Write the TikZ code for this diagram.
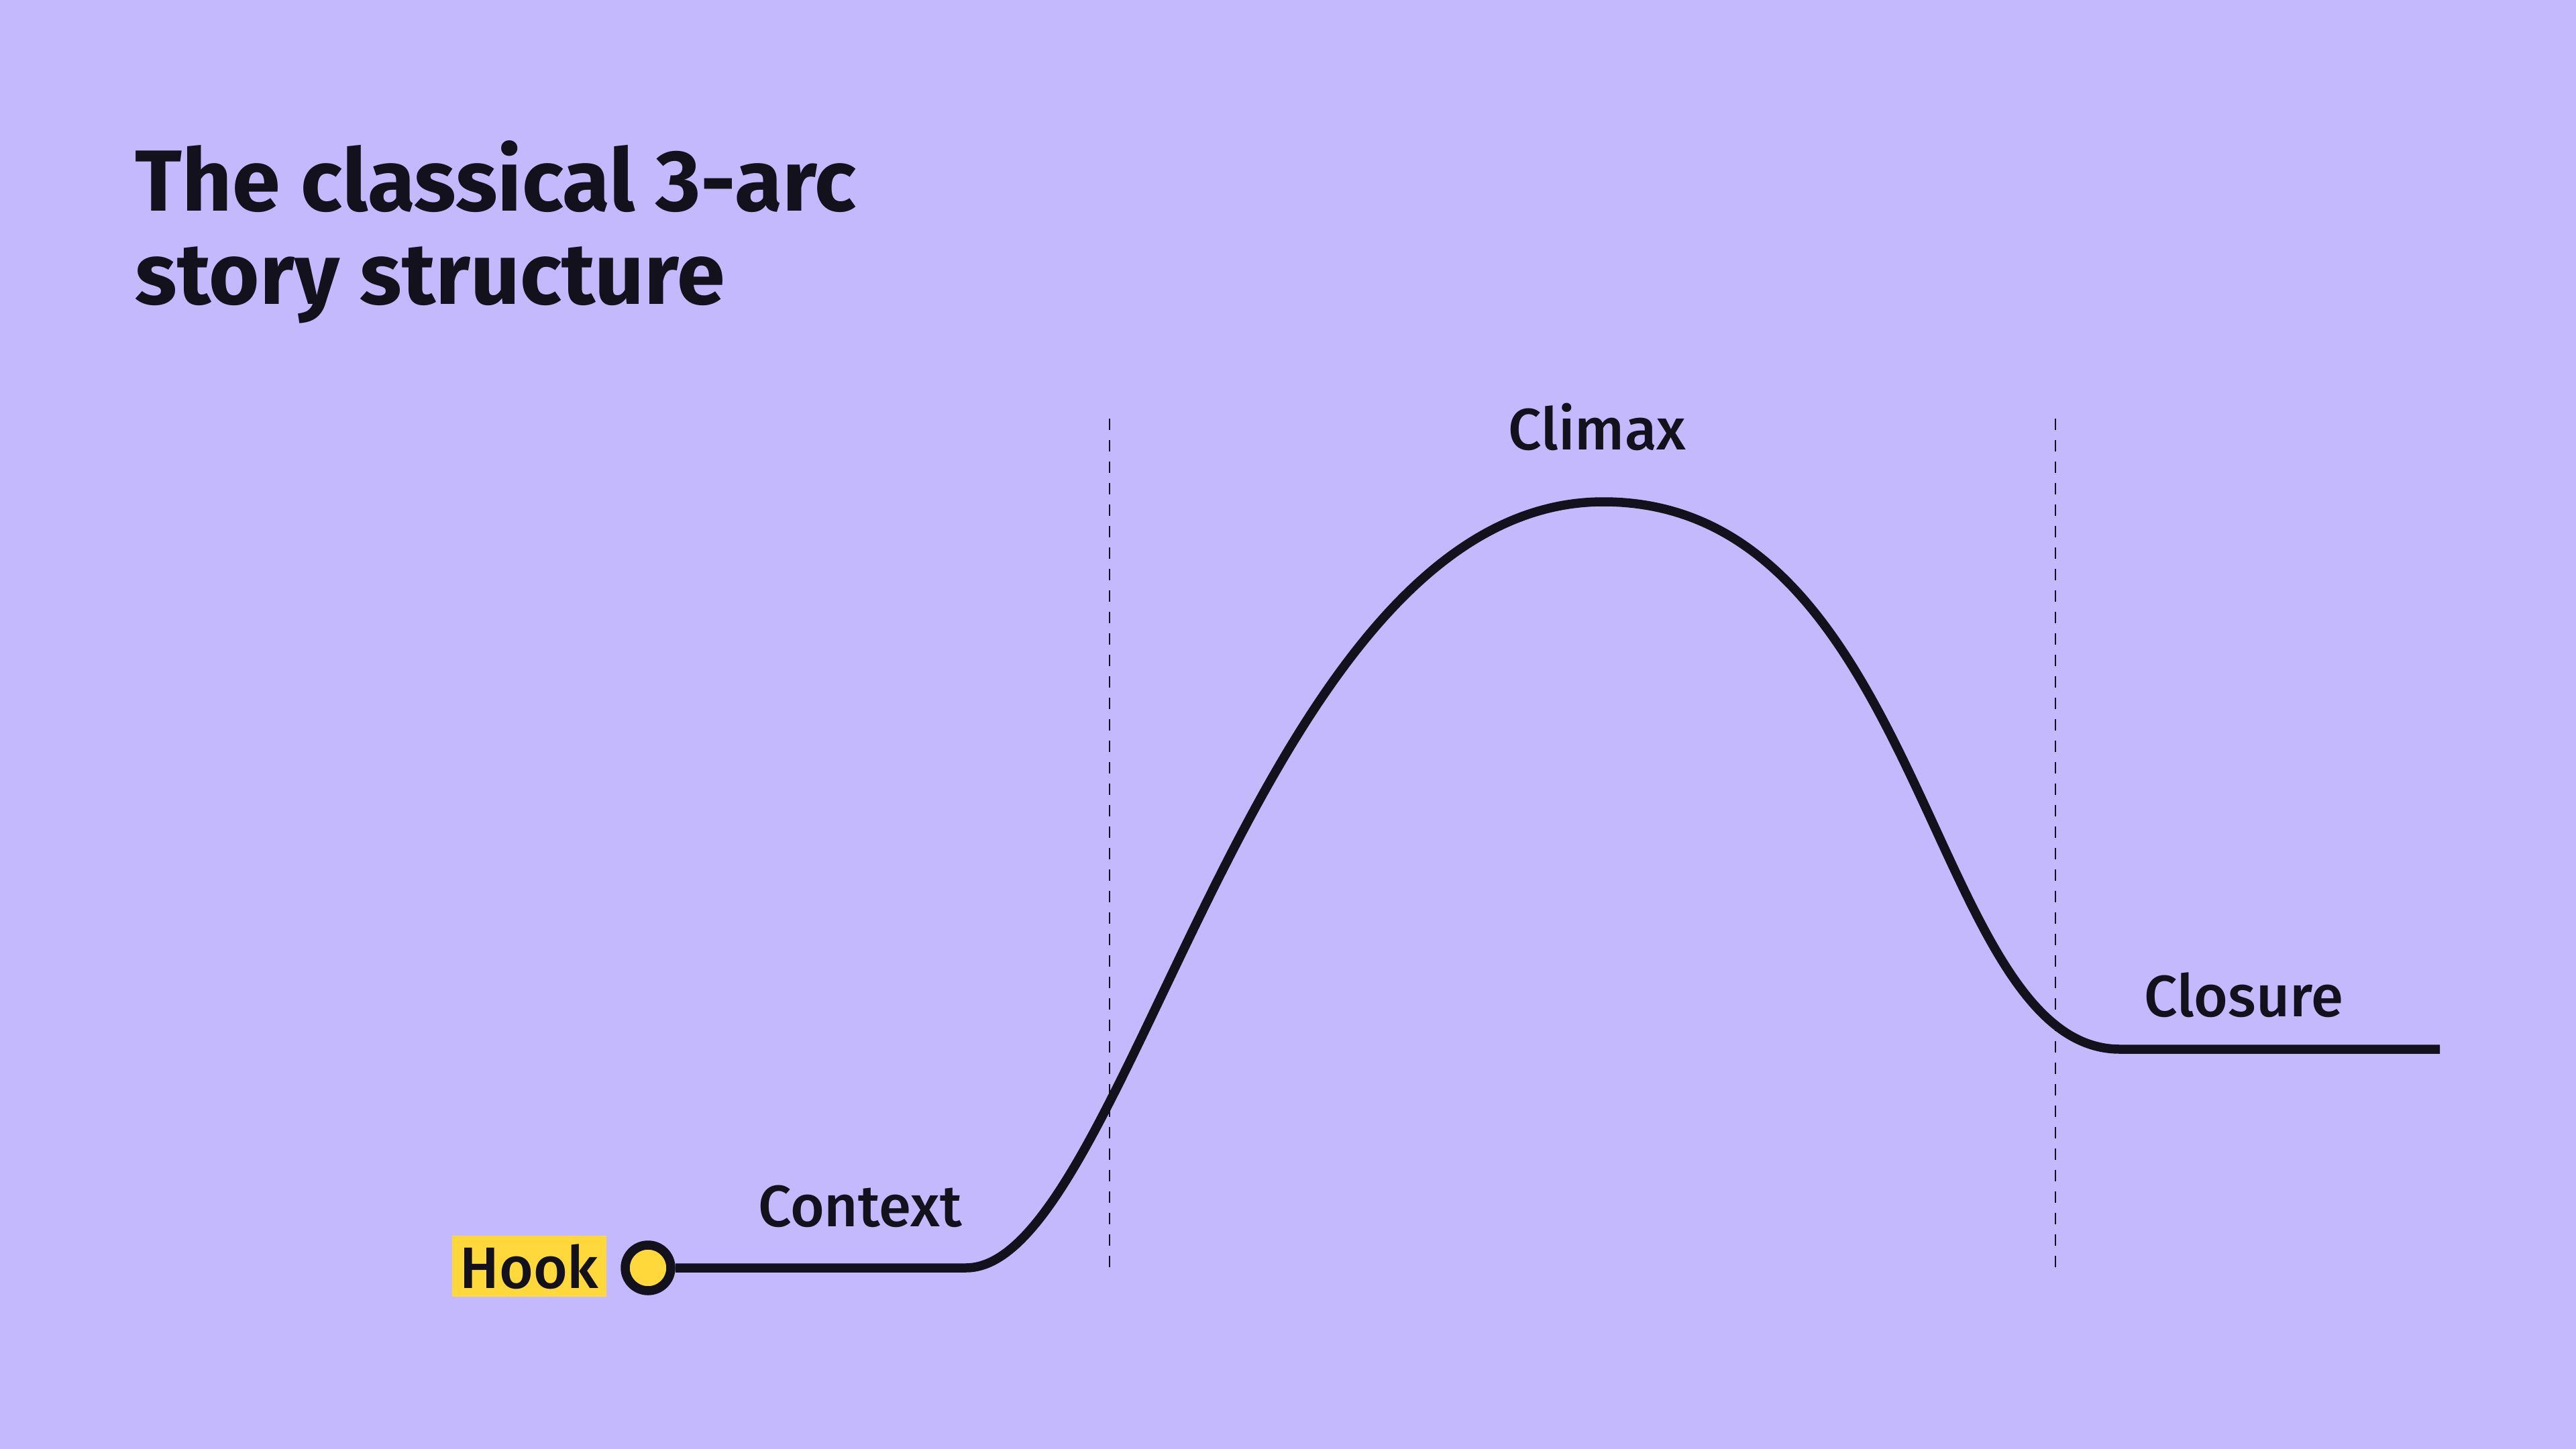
\documentclass[tikz,border=0pt]{standalone}
\usepackage{fontspec}
\setmainfont{Fira Sans}
\newfontfamily\labelfont{Fira Sans Medium}
\usepackage{tikz}
\usetikzlibrary{calc}
\usetikzlibrary{positioning}

\definecolor{bgviolet}{RGB}{197,185,254}
\definecolor{ink}{RGB}{19,17,28}
\definecolor{hookyellow}{RGB}{255,216,59}

\tikzset{
  arcline/.style={draw=ink, line width=0.135cm},
  divider/.style={draw=ink, line width=0.025cm, dash pattern=on 0.17cm off 0.15cm},
  phase/.style={text=ink, inner sep=0pt, anchor=base, font=\labelfont\fontsize{24.8pt}{28pt}\selectfont},
  hookdot/.style={circle, draw=ink, fill=hookyellow, line width=0.135cm, minimum size=0.68cm, inner sep=0pt}
}

\begin{document}
\begin{tikzpicture}
  \fill[bgviolet] (0,0) rectangle (38.4,-21.6);
  \useasboundingbox (0,0) rectangle (38.4,-21.6);

  \node[text=ink, inner sep=0pt, anchor=base west, align=left,
        font=\bfseries\fontsize{36.8pt}{39.8pt}\selectfont] (title) at (2.01,-4.54)
        {The classical 3-arc\\story structure};

  \coordinate (div1top) at (16.54,-6.24) ;
  \coordinate (div1bot) at (16.54,-18.91) ;
  \coordinate (div2top) at (30.64,-6.24) ;
  \coordinate (div2bot) at (30.64,-18.91) ;
  \draw[divider] (div1top) -- (div1bot);
  \draw[divider] (div2top) -- (div2bot);

  \node[hookdot] (hook) at (9.66,-18.90) {};
  \coordinate (ctxend) at (14.40,-18.90) ;
  \coordinate (peak) at (23.90,-7.48) ;
  \coordinate (clsstart) at (31.60,-15.64) ;
  \coordinate (arcend) at (36.37,-15.64) ;

  \draw[arcline] (hook.east) -- (ctxend)
    .. controls +(2.41,0) and +(-5.17,0) .. (peak)
    .. controls +(4.79,0) and +(-2.84,0) .. (clsstart) -- (arcend);

  \node[phase, fill=hookyellow, inner sep=0.12cm] (hooklabel) at (7.89,-19.20) {Hook};
  \node[phase] (context) at (12.82,-18.28) {Context};
  \node[phase] (climax) at (23.81,-6.70) {Climax};
  \node[phase] (closure) at (33.45,-15.15) {Closure};
\end{tikzpicture}
\end{document}
